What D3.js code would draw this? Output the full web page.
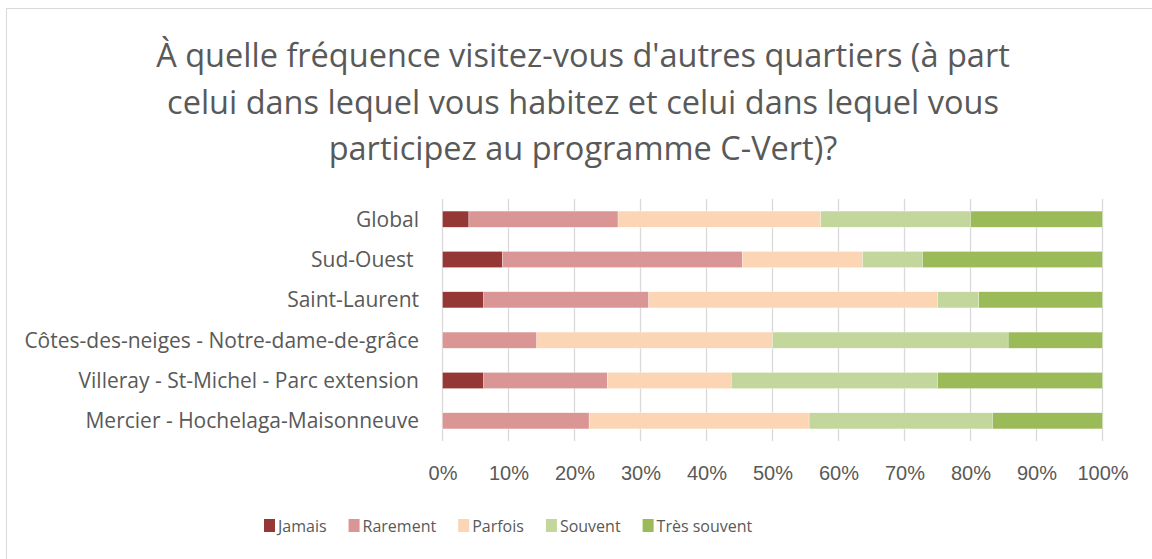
<!DOCTYPE html>
<html>
<head>
<meta charset="utf-8">
<script src="https://cdn.jsdelivr.net/npm/d3@7"></script>
<style>
	body { margin: 0; background: #fff; }
	svg { font-family: "Open Sans", sans-serif; }
	.axis path, .axis line { display: none; }
	.axis text { fill: #595959; font-size: 20px; }
	.cat { fill: #595959; font-size: 21px; text-anchor: end; white-space: pre; }
	.title { fill: #595959; font-size: 32.5px; text-anchor: middle; }
	.leg { fill: #595959; font-size: 16px; }
</style>
</head>
<body>
<script>
	// data (percent of answers)
	var categories = ["Global", "Sud-Ouest ", "Saint-Laurent", "Côtes-des-neiges - Notre-dame-de-grâce",
		"Villeray - St-Michel - Parc extension", "Mercier - Hochelaga-Maisonneuve"];
	var series = ["Jamais", "Rarement", "Parfois", "Souvent", "Très souvent"];
	var jamais     = [4.0, 9.09, 6.25, 0, 6.25, 0];
	var rarement   = [22.6, 36.36, 25.0, 14.29, 18.75, 22.22];
	var parfois    = [30.7, 18.18, 43.75, 35.71, 18.75, 33.33];
	var souvent    = [22.7, 9.09, 6.25, 35.71, 31.25, 27.78];
	var tresSouvent = [20.0, 27.27, 18.75, 14.29, 25.0, 16.67];
	var xTicks = [0, 10, 20, 30, 40, 50, 60, 70, 80, 90, 100];
	var titleLines = ["À quelle fréquence visitez-vous d'autres quartiers (à part",
		"celui dans lequel vous habitez et celui dans lequel vous",
		"participez au programme C-Vert)?"];

	var colors = ["#953735", "#D99694", "#FCD5B5", "#C3D69B", "#9BBB59"];
	var values = [jamais, rarement, parfois, souvent, tresSouvent];

	var width = 1152, height = 559;
	var plot = {left: 442.5, right: 1102.5, top: 199, bottom: 441};

	var svg = d3.select("body").append("svg")
		.attr("width", width)
		.attr("height", height);

	// cadre
	svg.append("rect")
		.attr("x", 6.5).attr("y", 8.5)
		.attr("width", width).attr("height", height)
		.attr("fill", "none")
		.attr("stroke", "#d9d9d9");

	var x = d3.scaleLinear().domain([0, 100]).range([plot.left, plot.right]);
	var y = d3.scaleBand().domain(categories)
		.range([plot.top, plot.bottom])
		.paddingInner(0.6).paddingOuter(0.3);

	// grille
	svg.selectAll(".grid")
		.data(xTicks)
		.enter().append("line")
		.attr("class", "grid")
		.attr("x1", function(d){ return x(d); })
		.attr("x2", function(d){ return x(d); })
		.attr("y1", plot.top)
		.attr("y2", plot.bottom)
		.attr("stroke", "#d9d9d9")
		.attr("stroke-width", 1.3);

	// empilement
	var rows = categories.map(function(c, i){
		var r = {cat: c};
		series.forEach(function(s, k){ r[s] = values[k][i]; });
		return r;
	});
	var stack = d3.stack().keys(series)(rows);

	svg.selectAll(".serie")
		.data(stack)
		.enter().append("g")
		.attr("class", "serie")
		.attr("fill", function(d, i){ return colors[i]; })
		.selectAll("rect")
		.data(function(d){ return d; })
		.enter().append("rect")
		.attr("x", function(d){ return x(d[0]); })
		.attr("width", function(d){ return x(d[1]) - x(d[0]); })
		.attr("y", function(d){ return y(d.data.cat); })
		.attr("height", y.bandwidth())
		.attr("stroke", "#fff")
		.attr("stroke-width", 0.5)
		.attr("stroke-opacity", function(d){ return d[1] > d[0] ? 0.6 : 0; });

	// axe x
	var xAxis = d3.axisBottom(x)
		.tickValues(xTicks)
		.tickFormat(function(d){ return d + "%"; })
		.tickSize(0)
		.tickPadding(25);
	svg.append("g")
		.attr("class", "axis")
		.attr("transform", "translate(0," + plot.bottom + ")")
		.call(xAxis);

	// étiquettes des catégories
	svg.selectAll(".cat")
		.data(categories)
		.enter().append("text")
		.attr("class", "cat")
		.attr("x", 419)
		.attr("y", function(d){ return y(d) + y.bandwidth() / 2; })
		.attr("dy", "0.36em")
		.text(function(d){ return d; });

	// titre
	svg.selectAll(".title")
		.data(titleLines)
		.enter().append("text")
		.attr("class", "title")
		.attr("x", 583)
		.attr("y", function(d, i){ return 67 + i * 46.5; })
		.text(function(d){ return d; });

	// légende
	var lx = 264;
	series.forEach(function(s, i){
		var g = svg.append("g").attr("transform", "translate(" + lx + ",519)");
		g.append("rect")
			.attr("width", 11).attr("height", 13)
			.attr("fill", colors[i]);
		var t = g.append("text")
			.attr("class", "leg")
			.attr("x", 14).attr("y", 13)
			.text(s);
		lx += 14 + t.node().getComputedTextLength() + 22;
	});
</script>
</body>
</html>
